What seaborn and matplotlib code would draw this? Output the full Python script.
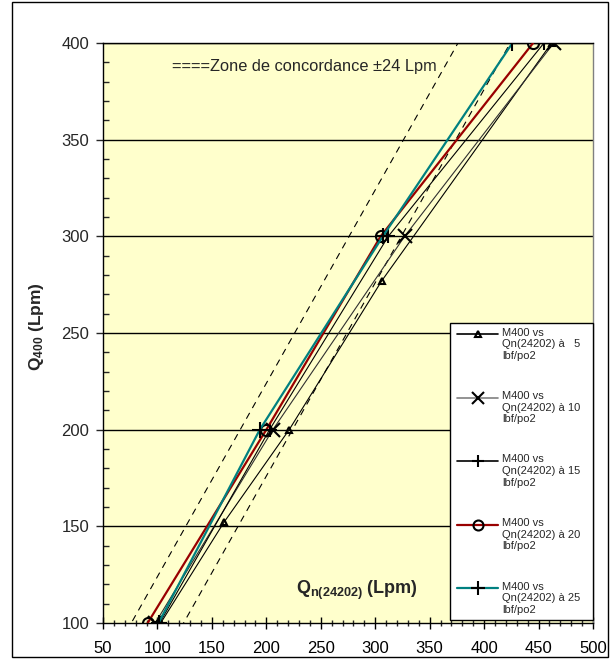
import numpy as np
import pandas as pd
import matplotlib
matplotlib.use("Agg")
import matplotlib.pyplot as plt
import seaborn as sns
from matplotlib.ticker import MultipleLocator
from matplotlib.patches import Rectangle
from matplotlib.lines import Line2D

# ---- data ----
qn_5 = [103, 161, 221, 306, 462]
q400_5 = [100, 152, 200, 277, 400]
qn_10 = [98, 206, 327, 464]
q400_10 = [100, 200, 300, 400]
qn_15 = [102, 203, 312, 455]
q400_15 = [100, 200, 300, 400]
qn_20 = [91, 200, 305, 445]
q400_20 = [100, 200, 300, 400]
qn_25 = [101, 194, 307, 426]
q400_25 = [100, 200, 300, 400]
zone_tol = 24
labels = ["M400 vs\nQn(24202) à   5\nlbf/po2",
          "M400 vs\nQn(24202) à 10\nlbf/po2",
          "M400 vs\nQn(24202) à 15\nlbf/po2",
          "M400 vs\nQn(24202) à 20\nlbf/po2",
          "M400 vs\nQn(24202) à 25\nlbf/po2"]
x_ticks = [50, 100, 150, 200, 250, 300, 350, 400, 450, 500]
y_ticks = [100, 150, 200, 250, 300, 350, 400]

sns.set_style("ticks")
plt.rcParams["font.family"] = ["Liberation Sans", "DejaVu Sans"]
plt.rcParams["mathtext.fontset"] = "custom"
plt.rcParams["mathtext.rm"] = "Liberation Sans"
plt.rcParams["mathtext.bf"] = "Liberation Sans:bold"

W, H = 610, 659
fig = plt.figure(figsize=(W / 100, H / 100), dpi=100)
ax = fig.add_axes([103/W, 1-623/H, 490/W, 580/H])
ax.set_facecolor("#FFFFCC")


def fx(px):
    return px / W


def fy(py):
    return 1 - py / H


xmin, xmax = x_ticks[0], x_ticks[-1]
ymin, ymax = y_ticks[0], y_ticks[-1]

# horizontal gridlines
for yv in y_ticks[1:]:
    ax.axhline(yv, color="black", lw=1.0, zorder=1)

# zone lines (y = x +/- tol)
zx = np.array([ymin - zone_tol - 10, ymax + zone_tol + 10], dtype=float)
for s in (+1, -1):
    sns.lineplot(x=zx, y=zx + s * zone_tol, ax=ax, color="black", lw=0.8,
                 linestyle=(0, (6, 5)), sort=False, estimator=None, zorder=2)

series = [
    (qn_5, q400_5, "black", "^", 5, 0.8, "black"),
    (qn_10, q400_10, "#303030", "x", 10, 0.8, "#808080"),
    (qn_15, q400_15, "black", "+", 10, 0.8, "black"),
    (qn_20, q400_20, "#990000", "o", 8, 1.6, "#990000"),
    (qn_25, q400_25, "#008080", "+", 11, 1.6, "#008080"),
]
for xs, ys, col, mk, ms, lw, legcol in series:
    sns.lineplot(x=xs, y=ys, ax=ax, color=col, lw=lw, sort=False, estimator=None,
                 marker=mk, markersize=ms, markerfacecolor="none",
                 markeredgecolor="black", markeredgewidth=1.5, zorder=3)
if ax.get_legend() is not None:
    ax.get_legend().remove()

ax.set_xlim(xmin, xmax)
ax.set_ylim(ymin, ymax)
ax.set_xticks(x_ticks)
ax.set_yticks(y_ticks)
ax.xaxis.set_minor_locator(MultipleLocator(10))
ax.yaxis.set_minor_locator(MultipleLocator(10))
ax.tick_params(axis="x", which="major", direction="inout", length=8, width=1,
               labelsize=12, pad=9, colors="black")
ax.tick_params(axis="x", which="minor", direction="inout", length=5, width=1)
ax.tick_params(axis="y", which="major", direction="out", length=5, width=1,
               labelsize=12, pad=5)
ax.tick_params(axis="y", which="minor", direction="in", length=4, width=1)
ax.set_xlabel("")
ax.set_ylabel("")
for sp in ("left", "bottom", "top"):
    ax.spines[sp].set_color("black")
    ax.spines[sp].set_linewidth(1.0)
ax.spines["right"].set_color("#808080")
ax.spines["right"].set_linewidth(1.0)

ax.text(113, 388, "====Zone de concordance ±24 Lpm", fontsize=11.8,
        ha="left", va="center", zorder=4)
ax.text(283, 117, r"$\mathbf{Q_{n(24202)}}$ $\mathbf{(Lpm)}$", fontsize=13,
        ha="center", va="center", zorder=4)
fig.text(fx(36), fy(327), r"$\mathbf{Q_{400}}$ $\mathbf{(Lpm)}$", fontsize=12.5,
         rotation=90, ha="center", va="center")

# ---- legend box (Excel style: marker aligned with first text row) ----
lg_l, lg_t, lg_r, lg_b = 450, 323, 593, 620
fig.patches.append(Rectangle((fx(lg_l), fy(lg_b)), fx(lg_r) - fx(lg_l),
                             fy(lg_t) - fy(lg_b), transform=fig.transFigure,
                             facecolor="white", edgecolor="black", lw=1.0,
                             zorder=5))
row0, row_step = 334, 63.5
for i, ((xs, ys, col, mk, ms, lw, legcol), lab) in enumerate(zip(series, labels)):
    yy = row0 + i * row_step
    fig.lines.append(Line2D([fx(457), fx(498)], [fy(yy), fy(yy)],
                            transform=fig.transFigure, color=legcol,
                            lw=max(lw, 1.2), zorder=6))
    fig.lines.append(Line2D([fx(477.5)], [fy(yy)], transform=fig.transFigure,
                            marker=mk, markersize=ms * 0.9, markerfacecolor="none",
                            markeredgecolor="black", markeredgewidth=1.5,
                            linestyle="none", zorder=7))
    fig.text(fx(502), fy(yy - 6.5), lab, fontsize=8, ha="left", va="top",
             linespacing=1.2, zorder=7)

fig.patches.append(Rectangle((fx(12), fy(657)), fx(608) - fx(12), fy(2) - fy(657),
                             transform=fig.transFigure, fill=False,
                             edgecolor="black", lw=1.0))

fig.savefig("out.png", dpi=100, facecolor="white")
